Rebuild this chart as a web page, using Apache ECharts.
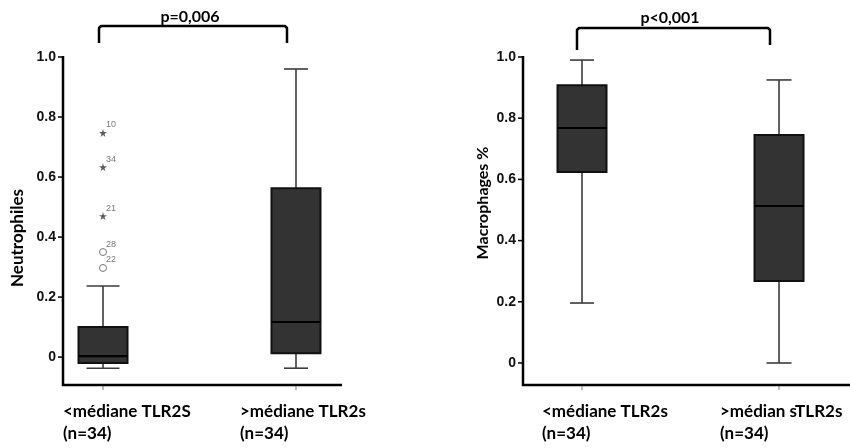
<!DOCTYPE html>
<html>
<head>
<meta charset="utf-8">
<script src="https://cdn.jsdelivr.net/npm/echarts@6/dist/echarts.min.js"></script>
<style>
  html, body { margin: 0; padding: 0; background: #fff; }
  #chart { width: 850px; height: 448px; }
</style>
</head>
<body>
<div id="chart"></div>
<script>
// Group labels (x axis) for each panel
const neutroGroups = ['<médiane TLR2S', '>médiane TLR2s'];
const macroGroups = ['<médiane TLR2s', '>médian sTLR2s'];
const groupSizes = ['(n=34)', '(n=34)'];

// Box statistics: [lower whisker, Q1, median, Q3, upper whisker]
const neutroStats = [[-0.037, -0.02, 0.003, 0.10, 0.237], [-0.037, 0.013, 0.117, 0.563, 0.96]];
const macroStats = [[0.196, 0.624, 0.768, 0.908, 0.99], [0.0, 0.268, 0.513, 0.745, 0.925]];

// Outliers of the first neutrophil group: extreme (star) and mild (circle)
const neutroExtremeValues = [0.747, 0.633, 0.47];
const neutroExtremeIds = ['10', '34', '21'];
const neutroMildValues = [0.35, 0.297];
const neutroMildIds = ['28', '22'];

// Tick labels on the y axes
const yTicks = [0, 0.2, 0.4, 0.6, 0.8, 1.0];

// Significance labels
const pLeft = 'p=0,006';
const pRight = 'p<0,001';

const FONT = 'Lato, "Open Sans", sans-serif';
const STAR = 'path://M50,0 L61,35 L98,35 L68,57 L79,91 L50,70 L21,91 L32,57 L2,35 L39,35 Z';

// panel layout and axis extents
const grids = [
  { left: 63, top: 57, width: 279, height: 328 },
  { left: 523, top: 57, width: 327, height: 328 }
];
const xRange = [[-0.2073, 1.2384], [-0.2995, 1.3603]];
const yMin = [-0.093, -0.0719];
const yMax = 1.0;

// half-width of whisker caps, per panel and group
const capHalf = [[16.5, 12], [12, 12.5]];
const boxHalf = 24.5;

function boxRenderer(panel) {
  return function (params, api) {
    const x = api.value(0);
    const lo = api.coord([x, api.value(1)]);
    const q1 = api.coord([x, api.value(2)]);
    const md = api.coord([x, api.value(3)]);
    const q3 = api.coord([x, api.value(4)]);
    const hi = api.coord([x, api.value(5)]);
    const cx = lo[0];
    const ch = capHalf[panel][params.dataIndex];
    const wStyle = { stroke: '#3c3c3c', lineWidth: 1.6 };
    return {
      type: 'group',
      children: [
        { type: 'line', shape: { x1: cx, y1: hi[1], x2: cx, y2: q3[1] }, style: wStyle },
        { type: 'line', shape: { x1: cx, y1: q1[1], x2: cx, y2: lo[1] }, style: wStyle },
        { type: 'line', shape: { x1: cx - ch, y1: hi[1], x2: cx + ch, y2: hi[1] }, style: wStyle },
        { type: 'line', shape: { x1: cx - ch, y1: lo[1], x2: cx + ch, y2: lo[1] }, style: wStyle },
        { type: 'rect', shape: { x: cx - boxHalf, y: q3[1], width: boxHalf * 2, height: q1[1] - q3[1] },
          style: { fill: '#333333', stroke: '#111', lineWidth: 2 } },
        { type: 'line', shape: { x1: cx - boxHalf, y1: md[1], x2: cx + boxHalf, y2: md[1] },
          style: { stroke: '#000', lineWidth: 2.2 } }
      ]
    };
  };
}

function yAxis(gridIndex) {
  return {
    type: 'value', gridIndex, min: yMin[gridIndex], max: yMax,
    splitLine: { show: false },
    axisLine: { show: false },
    axisTick: { show: false },
    axisLabel: {
      customValues: yTicks, margin: 7, color: '#111', fontSize: 14, fontWeight: 'bold',
      fontFamily: '"Liberation Sans", Arial, sans-serif',
      formatter: v => (Math.abs(v) < 1e-9 ? '0' : v.toFixed(1))
    }
  };
}

function xAxis(gridIndex) {
  return {
    type: 'value', gridIndex, min: xRange[gridIndex][0], max: xRange[gridIndex][1],
    splitLine: { show: false },
    axisLine: { show: false },
    axisTick: { show: false },
    axisLabel: { show: false }
  };
}

const neutroData = neutroStats.map((s, i) => [i].concat(s));
const macroData = macroStats.map((s, i) => [i].concat(s));

const outlierLabel = {
  show: true, position: 'right', distance: 0, offset: [-1, -8],
  fontSize: 9, color: '#555', fontFamily: '"Liberation Sans", Arial, sans-serif',
  formatter: p => p.data[2]
};

function groupTexts(groups, lefts) {
  return groups.map((g, i) => ({
    type: 'text', left: lefts[i], top: 401,
    style: { text: g + '\n' + groupSizes[i], fill: '#000', font: 'bold 17px ' + FONT, lineHeight: 22 }
  }));
}

const bracketStyle = { fill: null, stroke: '#000', lineWidth: 2.5, lineJoin: 'round' };

const chart = echarts.init(document.getElementById('chart'), null, { renderer: 'canvas' });
chart.setOption({
  backgroundColor: '#fff',
  animation: false,
  grid: grids,
  xAxis: [xAxis(0), xAxis(1)],
  yAxis: [yAxis(0), yAxis(1)],
  series: [
    { type: 'custom', xAxisIndex: 0, yAxisIndex: 0, renderItem: boxRenderer(0),
      encode: { x: 0, y: [1, 2, 3, 4, 5] }, data: neutroData, z: 2 },
    { type: 'custom', xAxisIndex: 1, yAxisIndex: 1, renderItem: boxRenderer(1),
      encode: { x: 0, y: [1, 2, 3, 4, 5] }, data: macroData, z: 2 },
    { type: 'scatter', xAxisIndex: 0, yAxisIndex: 0, symbol: STAR, symbolSize: 8,
      itemStyle: { color: '#333' }, label: outlierLabel,
      data: neutroExtremeValues.map((v, i) => [0, v, neutroExtremeIds[i]]) },
    { type: 'scatter', xAxisIndex: 0, yAxisIndex: 0, symbol: 'circle', symbolSize: 7,
      itemStyle: { color: '#fff', borderColor: '#555', borderWidth: 1 }, label: outlierLabel,
      data: neutroMildValues.map((v, i) => [0, v, neutroMildIds[i]]) }
  ]
});

// Maps a data point of a panel to pixels; falls back to the panel's linear scale
function toPx(panel, v) {
  let p = null;
  try { p = chart.convertToPixel({ gridIndex: panel }, v); } catch (e) { p = null; }
  if (!p || !isFinite(p[0]) || !isFinite(p[1])) {
    const g = grids[panel];
    const [x0, x1] = xRange[panel];
    const y0 = yMin[panel];
    p = [g.left + (v[0] - x0) / (x1 - x0) * g.width,
         g.top + (1 - (v[1] - y0) / (yMax - y0)) * g.height];
  }
  return [p[0], p[1]];
}

// Axis lines and ticks of a panel, drawn as polylines
function axisFrame(panel) {
  const [x0, x1] = xRange[panel];
  const y0 = yMin[panel];
  const origin = toPx(panel, [x0, y0]);
  const top = toPx(panel, [x0, yMax]);
  const right = toPx(panel, [x1, y0]);
  const els = [
    { type: 'polyline',
      shape: { points: [[origin[0], top[1] - 1], [origin[0], origin[1]], [right[0], origin[1]]] },
      style: { fill: null, stroke: '#000', lineWidth: 2.5 } }
  ];
  yTicks.forEach(t => {
    const p = toPx(panel, [x0, t]);
    els.push({ type: 'polyline', shape: { points: [[p[0] - 5, p[1]], [p[0], p[1]]] },
      style: { fill: null, stroke: '#000', lineWidth: 1.5 } });
  });
  [0, 1].forEach(c => {
    const p = toPx(panel, [c, y0]);
    els.push({ type: 'polyline', shape: { points: [[p[0], p[1] + 1], [p[0], p[1] + 5]] },
      style: { fill: null, stroke: '#777', lineWidth: 1 } });
  });
  return els;
}

chart.setOption({
  graphic: [
    // significance brackets
    { type: 'polyline', shape: { points: [[99, 43], [99, 28], [101, 26], [285, 26], [287, 28], [287, 43]] },
      style: bracketStyle },
    { type: 'text', x: 190, y: 17, style: { text: pLeft, fill: '#000', font: 'bold 16px ' + FONT,
      align: 'center', verticalAlign: 'middle' } },
    { type: 'polyline', shape: { points: [[577, 50], [577, 30], [579, 28], [768, 28], [770, 30], [770, 45]] },
      style: bracketStyle },
    { type: 'text', x: 670, y: 18, style: { text: pRight, fill: '#000', font: 'bold 16px ' + FONT,
      align: 'center', verticalAlign: 'middle' } },
    // axis titles
    { type: 'text', x: 18, y: 238, rotation: Math.PI / 2,
      style: { text: 'Neutrophiles', fill: '#000', font: 'bold 17px ' + FONT, align: 'center', verticalAlign: 'middle' } },
    { type: 'text', x: 483, y: 203, rotation: Math.PI / 2,
      style: { text: 'Macrophages %', fill: '#000', font: 'bold 16px ' + FONT, align: 'center', verticalAlign: 'middle' } }
  ].concat(
    groupTexts(neutroGroups, [63, 240]),
    groupTexts(macroGroups, [542, 720]),
    axisFrame(0),
    axisFrame(1)
  )
});
</script>
</body>
</html>
